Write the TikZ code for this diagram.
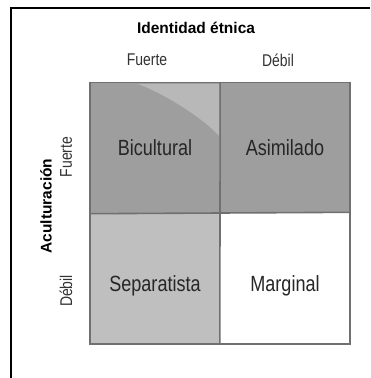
\documentclass[tikz,border=0pt]{standalone}
\usepackage{fontspec}
\setmainfont{Liberation Sans}
\newfontfamily\narrowfont[FakeStretch=0.82]{Liberation Sans}
\begin{document}
\begin{tikzpicture}[x=1pt,y=-1pt,
  cell/.style={draw=none, minimum width=130pt, minimum height=131pt, inner sep=0pt},
  celltext/.style={font=\narrowfont\fontsize{22}{24}\selectfont, text=black!85, inner sep=0pt},
  lbl/.style={font=\narrowfont\fontsize{17}{19}\selectfont, text=black!80},
  ttl/.style={font=\bfseries\fontsize{15.5}{18}\selectfont},
  border/.style={draw=cellline, line width=1.6pt}]
\definecolor{cellline}{HTML}{707070}
\definecolor{darkcell}{HTML}{9E9E9E}
\definecolor{lightcell}{HTML}{BFBFBF}
\definecolor{shine}{HTML}{B8B8B8}
\useasboundingbox (0,0) rectangle (370,378);
\fill[white] (0,0) rectangle (370,378);
% frame
\draw[line width=2.2pt] (11,378) -- (11,8) -- (370,8);
% cells
\node[cell, fill=darkcell] (bic) at (155,148) {};
\node[cell, fill=darkcell] (asi) at (285,148) {};
\node[cell, fill=lightcell] (sep) at (155,278) {};
\node[cell, fill=white] (mar) at (285,278) {};
\fill[shine] (138,84) .. controls (160,92) and (200,115) .. (219,136) -- (219,84) -- cycle;
\draw[border] (bic.north west) rectangle (mar.south east);
\draw[border] (bic.north east) -- (mar.south west);
\draw[border] (bic.south west) -- (mar.north east);
\node[celltext] (bict) at (bic.center) {Bicultural};
\node[celltext] (asit) at (asi.center) {Asimilado};
\node[celltext] (sept) at ([yshift=-8pt]sep.center) {Separatista};
\node[celltext] (mart) at ([yshift=-8pt]mar.center) {Marginal};
% headings
\node[ttl] (title) at (196,28) {Identidad étnica};
\node[lbl] (cf) at (147,60) {Fuerte};
\node[lbl] (cd) at (278,60) {Débil};
\node[ttl, rotate=90] (acu) at (46,206) {Aculturación};
\node[lbl, rotate=90] (rf) at (66,157) {Fuerte};
\node[lbl, rotate=90] (rd) at (66,291) {Débil};
\end{tikzpicture}
\end{document}
